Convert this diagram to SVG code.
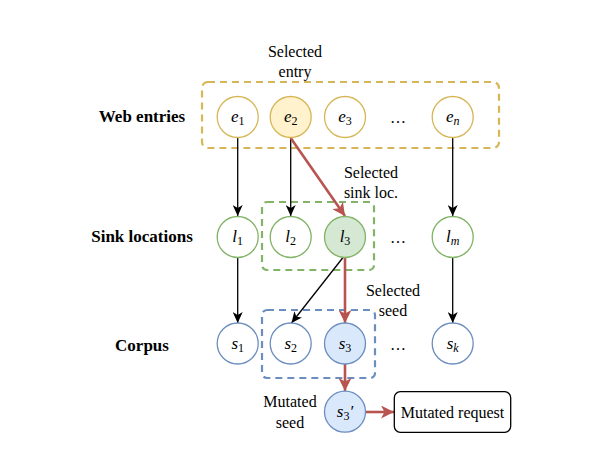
<svg xmlns="http://www.w3.org/2000/svg" width="598" height="463" viewBox="0 0 598 463">
<style>
  .lbl { font-size: 17px; font-weight: bold; text-anchor: middle; }
  .note { font-size: 16px; text-anchor: middle; }
  .nt { font-size: 17px; font-style: italic; text-anchor: middle; }
  .sub { font-size: 12px; font-style: normal; }
  .subi { font-size: 12px; font-style: italic; }
  .dots { font-size: 16px; text-anchor: middle; }
  .ey { fill: #ffffff; stroke: #d6b656; stroke-width: 1.3; }
  .ey2 { fill: #fff2cc; stroke: #d6b656; stroke-width: 1.3; }
  .gn { fill: #ffffff; stroke: #82b366; stroke-width: 1.3; }
  .gn2 { fill: #d5e8d4; stroke: #82b366; stroke-width: 1.3; }
  .bl { fill: #ffffff; stroke: #6c8ebf; stroke-width: 1.3; }
  .bl2 { fill: #dae8fc; stroke: #6c8ebf; stroke-width: 1.3; }
  .blk { stroke: #000; stroke-width: 1.3; fill: none; marker-end: url(#ab); }
  .red { stroke: #b85450; stroke-width: 2.6; fill: none; marker-end: url(#ar); }
  .box { fill: none; stroke-width: 2.2; stroke-dasharray: 7 5; }
</style>
<defs>
  <marker id="ab" markerUnits="userSpaceOnUse" markerWidth="12" markerHeight="10" refX="11" refY="5" orient="auto">
    <path d="M0,0 L11,5 L0,10 L3,5 Z" fill="#000"/>
  </marker>
  <marker id="ar" markerUnits="userSpaceOnUse" markerWidth="14" markerHeight="13" refX="13" refY="6.5" orient="auto">
    <path d="M0,0 L13,6.5 L0,13 L3.5,6.5 Z" fill="#b85450"/>
  </marker>
</defs>

<!-- dashed group boxes -->
<rect x="202" y="82" width="297" height="66" rx="6" class="box" stroke="#d6b656"/>
<rect x="262" y="202" width="112" height="68" rx="5" class="box" stroke="#82b366"/>
<rect x="262" y="310" width="113" height="68" rx="5" class="box" stroke="#6c8ebf"/>

<!-- row labels -->
<text font-family="Liberation Serif" class="lbl" x="142" y="122">Web entries</text>
<text font-family="Liberation Serif" class="lbl" x="142" y="242">Sink locations</text>
<text font-family="Liberation Serif" class="lbl" x="142" y="351">Corpus</text>

<!-- annotations -->
<text font-family="Liberation Serif" class="note" x="295" y="57">Selected</text>
<text font-family="Liberation Serif" class="note" x="295" y="77">entry</text>
<text font-family="Liberation Serif" class="note" x="371" y="178">Selected</text>
<text font-family="Liberation Serif" class="note" x="371" y="198">sink loc.</text>
<text font-family="Liberation Serif" class="note" x="393" y="296">Selected</text>
<text font-family="Liberation Serif" class="note" x="393" y="316">seed</text>
<text font-family="Liberation Serif" class="note" x="290" y="407">Mutated</text>
<text font-family="Liberation Serif" class="note" x="290" y="428">seed</text>

<text font-family="Liberation Serif" class="dots" x="398" y="123">…</text>
<text font-family="Liberation Serif" class="dots" x="398" y="243">…</text>
<text font-family="Liberation Serif" class="dots" x="398" y="350">…</text>

<!-- connectors -->
<g id="connectors">
  <line class="blk" x1="237.7" y1="138" x2="237.7" y2="216"/>
  <line class="blk" x1="290.7" y1="138" x2="290.7" y2="216"/>
  <line class="blk" x1="452.7" y1="138" x2="452.7" y2="216"/>
  <line class="blk" x1="237.7" y1="257.5" x2="237.7" y2="323"/>
  <line class="blk" x1="452.7" y1="257.5" x2="452.7" y2="323"/>
  <line class="blk" x1="343" y1="257.5" x2="291.5" y2="323"/>
  <line class="red" x1="290.7" y1="138" x2="345" y2="216"/>
  <line class="red" x1="345" y1="257.5" x2="345" y2="323"/>
  <line class="red" x1="345" y1="364" x2="345" y2="391"/>
  <line class="red" x1="365.5" y1="412" x2="394" y2="412"/>
</g>

<!-- row 1 -->
<g id="e1"><circle cx="237.7" cy="117" r="20.5" class="ey"/><text font-family="Liberation Serif" class="nt" x="237.7" y="122">e<tspan class="sub" dy="3">1</tspan></text></g>
<g id="e2"><circle cx="290.7" cy="117" r="20.5" class="ey2"/><text font-family="Liberation Serif" class="nt" x="290.7" y="122">e<tspan class="sub" dy="3">2</tspan></text></g>
<g id="e3"><circle cx="345" cy="117" r="20.5" class="ey"/><text font-family="Liberation Serif" class="nt" x="345" y="122">e<tspan class="sub" dy="3">3</tspan></text></g>
<g id="en"><circle cx="452.7" cy="117" r="20.5" class="ey"/><text font-family="Liberation Serif" class="nt" x="452.7" y="122">e<tspan class="subi" dy="3">n</tspan></text></g>

<!-- row 2 -->
<g id="l1"><circle cx="237.7" cy="237" r="20.5" class="gn"/><text font-family="Liberation Serif" class="nt" x="237.7" y="242">l<tspan class="sub" dy="3">1</tspan></text></g>
<g id="l2"><circle cx="290.7" cy="237" r="20.5" class="gn"/><text font-family="Liberation Serif" class="nt" x="290.7" y="242">l<tspan class="sub" dy="3">2</tspan></text></g>
<g id="l3"><circle cx="345" cy="237" r="20.5" class="gn2"/><text font-family="Liberation Serif" class="nt" x="345" y="242">l<tspan class="sub" dy="3">3</tspan></text></g>
<g id="lm"><circle cx="452.7" cy="237" r="20.5" class="gn"/><text font-family="Liberation Serif" class="nt" x="452.7" y="242">l<tspan class="subi" dy="3">m</tspan></text></g>

<!-- row 3 -->
<g id="s1"><circle cx="237.7" cy="343.5" r="20.5" class="bl"/><text font-family="Liberation Serif" class="nt" x="237.7" y="348.5">s<tspan class="sub" dy="3">1</tspan></text></g>
<g id="s2"><circle cx="290.7" cy="343.5" r="20.5" class="bl"/><text font-family="Liberation Serif" class="nt" x="290.7" y="348.5">s<tspan class="sub" dy="3">2</tspan></text></g>
<g id="s3"><circle cx="345" cy="343.5" r="20.5" class="bl2"/><text font-family="Liberation Serif" class="nt" x="345" y="348.5">s<tspan class="sub" dy="3">3</tspan></text></g>
<g id="sk"><circle cx="452.7" cy="343.5" r="20.5" class="bl"/><text font-family="Liberation Serif" class="nt" x="452.7" y="348.5">s<tspan class="subi" dy="3">k</tspan></text></g>

<!-- mutated -->
<g id="s3p"><circle cx="345" cy="411.7" r="20.5" class="bl2"/><text font-family="Liberation Serif" class="nt" x="345" y="416.7">s<tspan class="sub" dy="3">3</tspan><tspan dy="-3">′</tspan></text></g>
<g id="req"><rect x="394.3" y="391.7" width="116.4" height="40.6" rx="6" fill="#fff" stroke="#000" stroke-width="1.3"/><text font-family="Liberation Serif" class="note" x="452.5" y="417.5">Mutated request</text></g>
</svg>
